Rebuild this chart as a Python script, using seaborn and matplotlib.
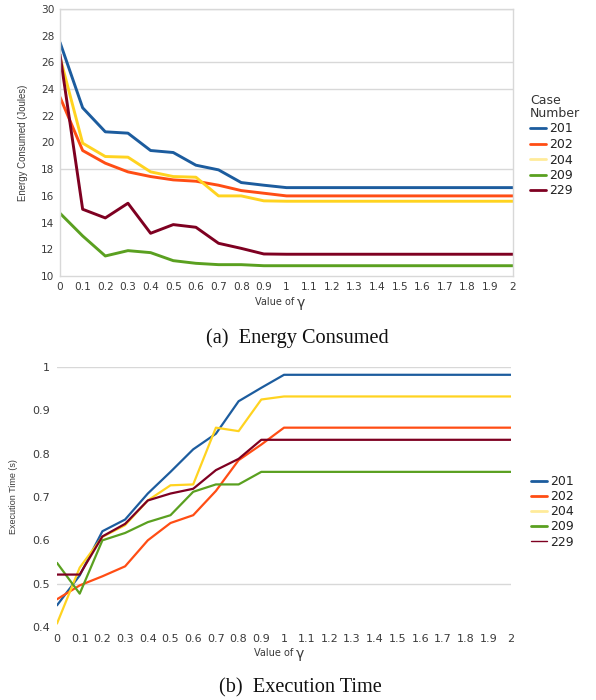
import numpy as np
import pandas as pd
import matplotlib
matplotlib.use("Agg")
import matplotlib.pyplot as plt
import seaborn as sns
from matplotlib.lines import Line2D

# ---------------- data ----------------
gamma = [0, 0.1, 0.2, 0.3, 0.4, 0.5, 0.6, 0.7, 0.8, 0.9, 1.0,
         1.1, 1.2, 1.3, 1.4, 1.5, 1.6, 1.7, 1.8, 1.9, 2.0]
gamma_labels = ["0", "0.1", "0.2", "0.3", "0.4", "0.5", "0.6", "0.7", "0.8", "0.9", "1",
                "1.1", "1.2", "1.3", "1.4", "1.5", "1.6", "1.7", "1.8", "1.9", "2"]
cases = ["201", "202", "204", "209", "229"]

energy_201 = [27.5, 22.6, 20.8, 20.7, 19.4, 19.25, 18.3, 17.95, 17.0, 16.8, 16.62,
              16.62, 16.62, 16.62, 16.62, 16.62, 16.62, 16.62, 16.62, 16.62, 16.62]
energy_202 = [23.4, 19.4, 18.45, 17.8, 17.45, 17.2, 17.1, 16.8, 16.4, 16.2, 16.0,
              16.0, 16.0, 16.0, 16.0, 16.0, 16.0, 16.0, 16.0, 16.0, 16.0]
energy_204 = [26.4, 19.95, 18.95, 18.9, 17.8, 17.45, 17.4, 16.0, 16.0, 15.63, 15.6,
              15.6, 15.6, 15.6, 15.6, 15.6, 15.6, 15.6, 15.6, 15.6, 15.6]
energy_209 = [14.7, 13.0, 11.5, 11.9, 11.75, 11.15, 10.95, 10.85, 10.85, 10.77, 10.77,
              10.77, 10.77, 10.77, 10.77, 10.77, 10.77, 10.77, 10.77, 10.77, 10.77]
energy_229 = [26.6, 15.0, 14.35, 15.45, 13.2, 13.85, 13.65, 12.45, 12.07, 11.65, 11.63,
              11.63, 11.63, 11.63, 11.63, 11.63, 11.63, 11.63, 11.63, 11.63, 11.63]

time_201 = [0.45, 0.519, 0.621, 0.648, 0.708, 0.758, 0.81, 0.846, 0.921, 0.952, 0.982,
            0.982, 0.982, 0.982, 0.982, 0.982, 0.982, 0.982, 0.982, 0.982, 0.982]
time_202 = [0.464, 0.496, 0.517, 0.54, 0.6, 0.64, 0.658, 0.714, 0.785, 0.821, 0.86,
            0.86, 0.86, 0.86, 0.86, 0.86, 0.86, 0.86, 0.86, 0.86, 0.86]
time_204 = [0.408, 0.537, 0.608, 0.635, 0.692, 0.727, 0.729, 0.86, 0.852, 0.925, 0.932,
            0.932, 0.932, 0.932, 0.932, 0.932, 0.932, 0.932, 0.932, 0.932, 0.932]
time_209 = [0.548, 0.477, 0.6, 0.617, 0.642, 0.658, 0.712, 0.729, 0.729, 0.758, 0.758,
            0.758, 0.758, 0.758, 0.758, 0.758, 0.758, 0.758, 0.758, 0.758, 0.758]
time_229 = [0.521, 0.521, 0.609, 0.638, 0.692, 0.708, 0.719, 0.762, 0.788, 0.832, 0.832,
            0.832, 0.832, 0.832, 0.832, 0.832, 0.832, 0.832, 0.832, 0.832, 0.832]

energy_series = [energy_201, energy_202, energy_204, energy_209, energy_229]
time_series = [time_201, time_202, time_204, time_209, time_229]

energy_ticks = [10, 12, 14, 16, 18, 20, 22, 24, 26, 28, 30]
time_ticks = [0.4, 0.5, 0.6, 0.7, 0.8, 0.9, 1.0]
time_tick_labels = ["0.4", "0.5", "0.6", "0.7", "0.8", "0.9", "1"]
energy_grid = [18, 24, 26, 30]
time_grid = [0.5, 1.0]

# ---------------- style ----------------
colors = {"201": "#1c5c9e", "202": "#ff4d14", "204": "#ffd320",
          "209": "#5aa020", "229": "#7e0021"}

def long_df(series):
    rows = []
    for c, vals in zip(cases, series):
        for g, v in zip(gamma, vals):
            rows.append({"gamma": g, "value": v, "case": c})
    return pd.DataFrame(rows)

df_e = long_df(energy_series)
df_t = long_df(time_series)

sns.set_theme(style="white")
plt.rcParams["font.family"] = ["DejaVu Sans"]

fig = plt.figure(figsize=(5.96, 7.0), dpi=100)
tick_color = "#3a3a3a"
narrow = ["Liberation Sans", "DejaVu Sans"]

def gamma_label(ax, yfrac, xfrac):
    ax.text(xfrac, yfrac, "Value of ", transform=ax.transAxes, ha="right", va="center",
            fontsize=7, color=tick_color)
    ax.text(xfrac, yfrac - 0.005, "γ", transform=ax.transAxes, ha="left", va="center",
            fontsize=10, color=tick_color)

# ---- top chart ----
ax1 = fig.add_axes([60/596, 1-276/700, (513-60)/596, (276-9)/700])
sns.lineplot(data=df_e, x="gamma", y="value", hue="case", palette=colors,
             linewidth=2.1, ax=ax1, legend=False)
ax1.set_xlim(0, 2)
ax1.set_ylim(10, 30)
for g in energy_grid:
    ax1.axhline(g, color="#d8d8d8", lw=1.0, zorder=0)
for s in ax1.spines.values():
    s.set_color("#d8d8d8")
    s.set_linewidth(1.0)
ax1.set_xticks(gamma)
ax1.set_xticklabels(gamma_labels)
ax1.set_yticks(energy_ticks)
ax1.set_yticklabels([str(t) for t in energy_ticks])
ax1.tick_params(axis="both", length=0, labelsize=7.6, colors=tick_color, pad=4)
ax1.set_xlabel("")
gamma_label(ax1, (276-302)/267, (297-60)/453)
ax1.set_ylabel("Energy Consumed (Joules)", fontsize=6.9, color=tick_color,
               labelpad=9, family=narrow)

h1 = [Line2D([], [], color=colors[c], lw=2.0, alpha=(0.45 if c == "204" else 1)) for c in cases]
leg1 = fig.legend(h1, cases, title="Case\nNumber", loc="upper left",
                  bbox_to_anchor=(530/596, 1-94/700), frameon=False,
                  fontsize=9, title_fontsize=9, handlelength=1.25,
                  handletextpad=0.3, labelspacing=0.2, borderpad=0, borderaxespad=0)
leg1._legend_box.align = "left"
for t in leg1.get_texts():
    t.set_color("#222222")
leg1.get_title().set_color("#333333")
leg1.get_title().set_linespacing(1.0)

# ---- bottom chart ----
ax2 = fig.add_axes([57/596, 1-627/700, (511-57)/596, (627-367)/700])
sns.lineplot(data=df_t, x="gamma", y="value", hue="case", palette=colors,
             linewidth=1.6, ax=ax2, legend=False)
ax2.set_xlim(0, 2)
ax2.set_ylim(0.4, 1.0)
for g in time_grid:
    ax2.axhline(g, color="#d8d8d8", lw=1.0, zorder=0)
for s in ax2.spines.values():
    s.set_visible(False)
ax2.set_xticks(gamma)
ax2.set_xticklabels(gamma_labels)
ax2.set_yticks(time_ticks)
ax2.set_yticklabels(time_tick_labels)
ax2.tick_params(axis="both", length=0, labelsize=8, colors=tick_color, pad=5)
ax2.set_xlabel("")
gamma_label(ax2, (627-653)/260, (296-57)/454)
ax2.set_ylabel("Execution Time (s)", fontsize=6.5, color=tick_color,
               labelpad=10, family=narrow)

h2 = []
for c in cases:
    lw = 1.0 if c == "229" else 2.0
    h2.append(Line2D([], [], color=colors[c], lw=lw, alpha=(0.45 if c == "204" else 1)))
leg2 = fig.legend(h2, cases, loc="upper left",
                  bbox_to_anchor=(531/596, 1-475/700), frameon=False,
                  fontsize=9, handlelength=1.25, handletextpad=0.3,
                  labelspacing=0.17, borderpad=0, borderaxespad=0)
for t in leg2.get_texts():
    t.set_color("#222222")

# ---- captions ----
fig.text(297/596, 1-338/700, "(a)  Energy Consumed", ha="center", va="center",
         fontsize=14.6, family=["Liberation Serif", "DejaVu Serif"], color="#111111")
fig.text(300/596, 1-688/700, "(b)  Execution Time", ha="center", va="center",
         fontsize=14.6, family=["Liberation Serif", "DejaVu Serif"], color="#111111")

fig.savefig("out.png", dpi=100, facecolor="white")
